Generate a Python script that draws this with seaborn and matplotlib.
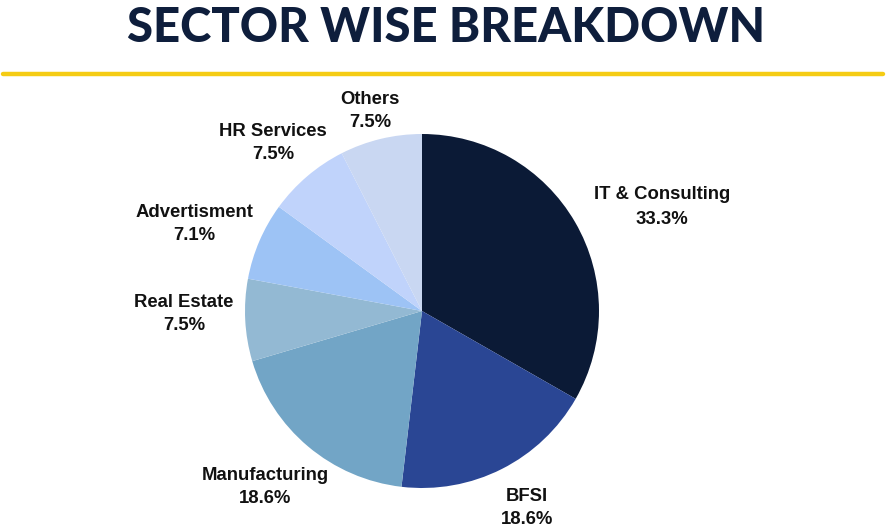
import matplotlib
matplotlib.use("Agg")
import matplotlib.pyplot as plt
import seaborn as sns

# sector shares (%), clockwise from 12 o'clock
sectors = ["IT & Consulting", "BFSI", "Manufacturing", "Real Estate",
           "Advertisment", "HR Services", "Others"]
shares = [33.3, 18.6, 18.6, 7.5, 7.1, 7.5, 7.5]
colors = ["#0b1a36", "#2a4694", "#72a5c6", "#93b9d3",
          "#9dc3f5", "#c0d3fb", "#c9d7f2"]

# label centres, in units of pie radius
label_xy = [(1.356, 0.588), (0.593, -1.113), (-0.887, -0.994),
            (-1.345, -0.017), (-1.288, 0.492), (-0.842, 0.949),
            (-0.294, 1.130)]

sns.set_theme(style="white")
plt.rcParams["font.family"] = ["Liberation Sans", "DejaVu Sans"]

W, H = 886, 529
fig = plt.figure(figsize=(W / 100, H / 100), dpi=100)
ax = fig.add_axes([0, 0, 1, 1])

cx, cy, r = 422, H - 311, 177
ax.pie(shares, colors=sns.color_palette(colors), startangle=90,
       counterclock=False, center=(cx, cy), radius=r, frame=True,
       wedgeprops={"linewidth": 0})
ax.set_xlim(0, W)
ax.set_ylim(0, H)
ax.axis("off")

for i, (name, val, (lx, ly)) in enumerate(zip(sectors, shares, label_xy)):
    ax.text(cx + lx * r, cy + ly * r, f"{name}\n{val}%", ha="center",
            va="center", fontsize=13.3, fontweight="bold", color="#111111",
            linespacing=1.65 if i == 0 else 1.42)

# header
ax.text(446, H - 28, "SECTOR WISE BREAKDOWN", ha="center", va="center",
        fontsize=34, fontweight="black", family="Lato", color="#0e1e3c")
ax.plot([3, 883], [H - 74, H - 74], color="#f5cc14", lw=3.2,
        solid_capstyle="round")

fig.savefig("out.png", dpi=100)
